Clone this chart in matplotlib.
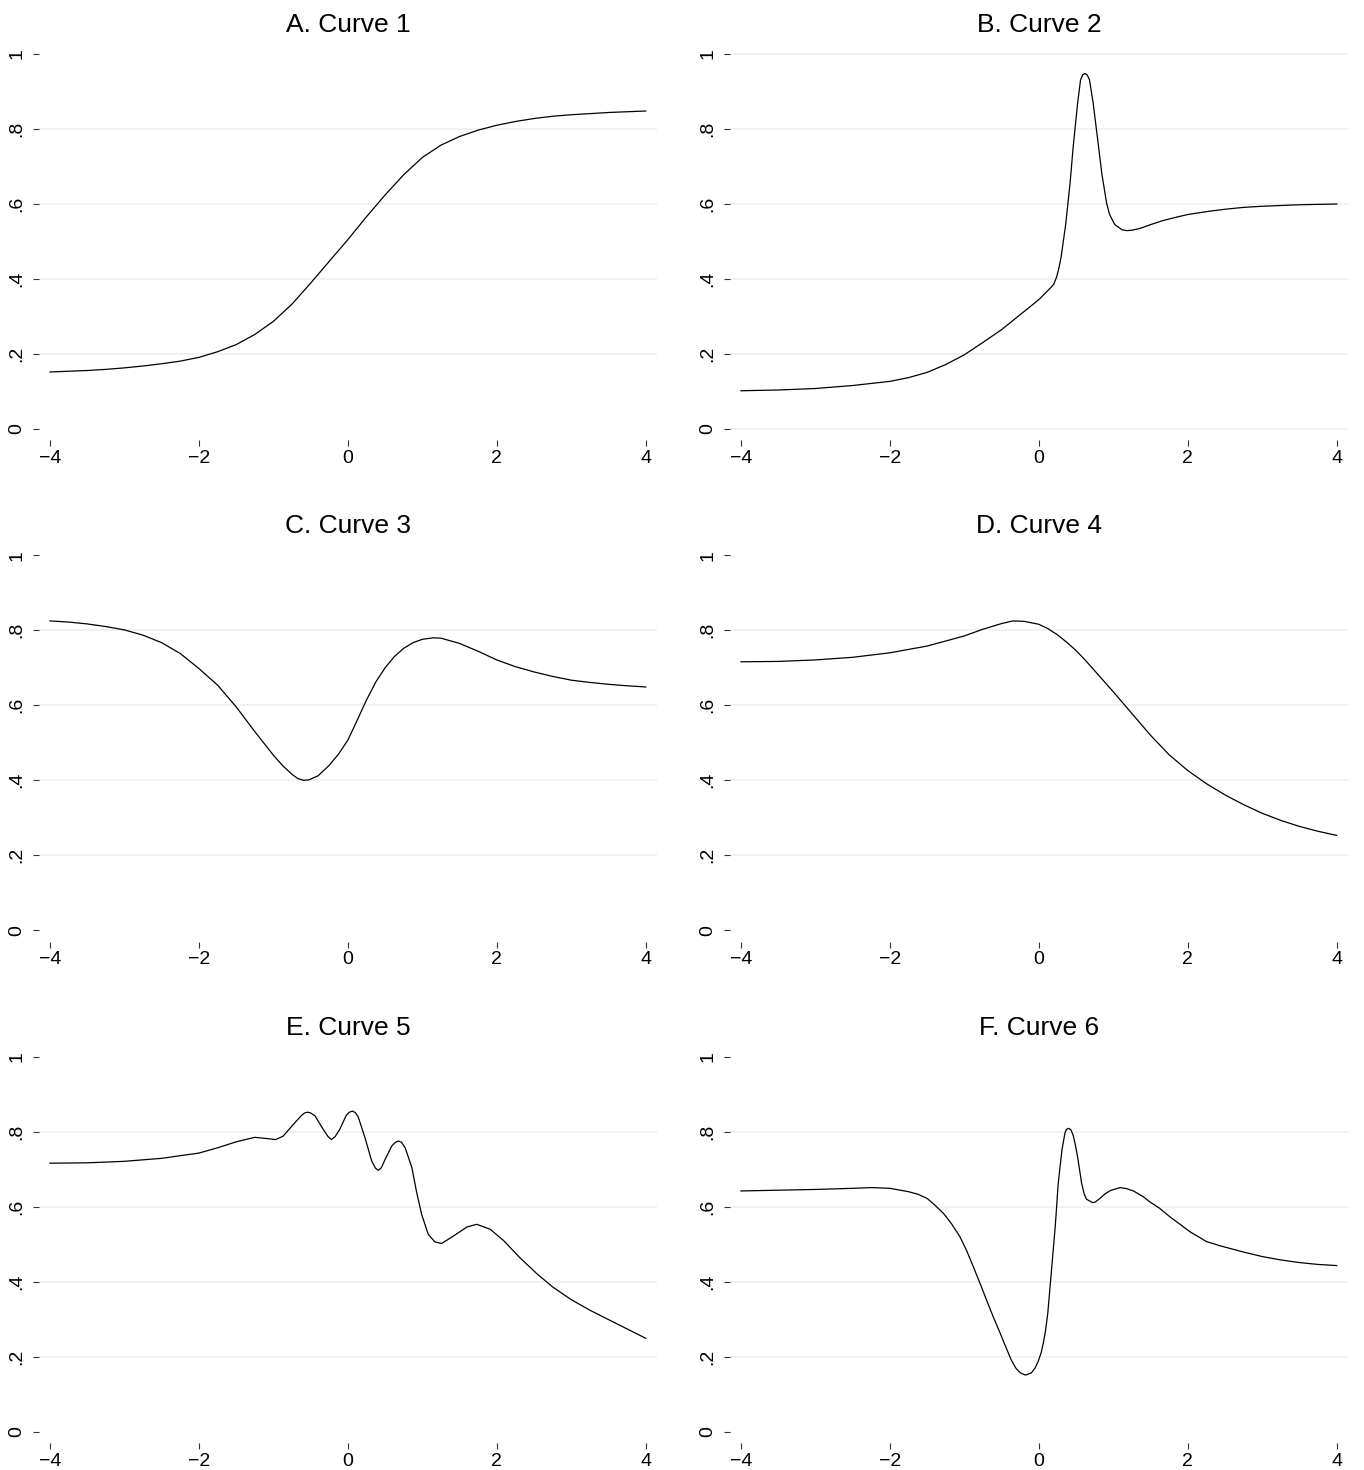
import matplotlib
matplotlib.use("Agg")
import matplotlib.pyplot as plt

plt.rcParams['font.family'] = ['Liberation Sans', 'DejaVu Sans']

# values
titles = ["A. Curve 1", "B. Curve 2", "C. Curve 3", "D. Curve 4", "E. Curve 5", "F. Curve 6"]

curve1_x = [-4, -3.75, -3.5, -3.25, -3, -2.75, -2.5, -2.25, -2, -1.75, -1.5, -1.25, -1, -0.75, -0.5,
            -0.25, 0, 0.25, 0.5, 0.75, 1, 1.25, 1.5, 1.75, 2, 2.25, 2.5, 2.75, 3, 3.25, 3.5, 3.75, 4]
curve1_y = [.152, .154, .156, .159, .163, .168, .174, .181, .191, .206, .225, .252, .287, .333, .389,
            .447, .505, .566, .624, .678, .724, .757, .780, .797, .810, .820, .828, .834, .838, .841,
            .844, .846, .848]

curve2_x = [-4, -3.5, -3, -2.5, -2, -1.75, -1.5, -1.25, -1, -0.75, -0.5, -0.25, 0, 0.15, 0.2, 0.24,
            0.27, 0.3, 0.36, 0.42, 0.46, 0.52, 0.56, 0.59, 0.62, 0.65, 0.68, 0.73, 0.785, 0.845, 0.91,
            0.95, 1.02, 1.12, 1.18, 1.25, 1.36, 1.5, 1.67, 1.85, 2.0, 2.3, 2.5, 2.75, 3, 3.5, 4]
curve2_y = [.102, .104, .108, .116, .127, .137, .151, .172, .198, .231, .265, .305, .345, .375, .386,
            .406, .430, .460, .545, .657, .750, .868, .931, .945, .948, .944, .931, .868, .780, .682,
            .602, .572, .545, .531, .529, .530, .535, .545, .556, .565, .572, .581, .586, .591, .594,
            .598, .600]

curve3_x = [-4, -3.75, -3.5, -3.25, -3, -2.75, -2.5, -2.25, -2, -1.75, -1.5, -1.25, -1, -0.875,
            -0.75, -0.675, -0.6, -0.525, -0.4, -0.25, -0.125, 0, 0.125, 0.25, 0.375, 0.5, 0.625,
            0.75, 0.875, 1, 1.15, 1.25, 1.5, 1.75, 2, 2.25, 2.5, 2.75, 3, 3.25, 3.5, 3.75, 4]
curve3_y = [.825, .822, .817, .810, .801, .787, .767, .738, .698, .654, .596, .530, .467, .439,
            .416, .405, .400, .401, .412, .440, .470, .507, .560, .614, .662, .700, .730,
            .752, .767, .776, .780, .779, .765, .744, .721, .703, .689, .677, .667, .661, .656,
            .652, .649]

curve4_x = [-4, -3.5, -3, -2.5, -2, -1.5, -1, -0.75, -0.5, -0.35, -0.2, 0, 0.125, 0.25, 0.375, 0.5,
            0.625, 0.75, 1, 1.25, 1.5, 1.75, 2, 2.25, 2.5, 2.75, 3, 3.25, 3.5, 3.75, 4]
curve4_y = [.716, .717, .721, .728, .740, .758, .785, .803, .818, .825, .824, .816, .804, .788, .768,
            .746, .720, .692, .636, .578, .520, .468, .426, .391, .361, .335, .312, .293, .277, .264,
            .253]

curve5_x = [-4, -3.5, -3, -2.5, -2, -1.75, -1.5, -1.25, -1.1, -0.97, -0.87, -0.73, -0.62, -0.58,
            -0.54, -0.5, -0.44, -0.33, -0.27, -0.22, -0.17, -0.11, -0.02, 0.02, 0.06, 0.1, 0.14, 0.23,
            0.32, 0.37, 0.41, 0.45, 0.5, 0.59, 0.64, 0.68, 0.72, 0.77, 0.86, 0.92, 0.99, 1.08, 1.17,
            1.26, 1.42, 1.6, 1.73, 1.91, 2.09, 2.31, 2.54, 2.75, 3, 3.25, 3.5, 3.75, 4]
curve5_y = [.716, .717, .721, .729, .743, .757, .773, .785, .782, .779, .788, .820, .844, .850,
            .852, .850, .842, .806, .788, .779, .787, .806, .844, .852, .855, .851, .839, .784,
            .722, .703, .697, .704, .726, .762, .772, .775, .772, .757, .704, .642, .580, .526, .506,
            .502, .522, .546, .553, .540, .510, .464, .421, .386, .352, .324, .299, .274, .249]

curve6_x = [-4, -3.5, -3, -2.5, -2.25, -2, -1.75, -1.62, -1.5, -1.395, -1.28, -1.171, -1.06, -0.97,
            -0.88, -0.791, -0.7, -0.612, -0.52, -0.442, -0.37, -0.307, -0.25, -0.18, -0.1, -0.05,
            -0.01, 0.03, 0.06, 0.09, 0.12, 0.17, 0.22, 0.26, 0.31, 0.35, 0.37, 0.4, 0.43, 0.46, 0.49,
            0.52, 0.575, 0.61, 0.64, 0.72, 0.754, 0.82, 0.888, 0.96, 1.09, 1.18, 1.27, 1.4, 1.49,
            1.62, 1.76, 1.89, 2.03, 2.16, 2.25, 2.43, 2.75, 3, 3.25, 3.5, 3.75, 4]
curve6_y = [.642, .644, .646, .649, .651, .649, .640, .633, .622, .604, .582, .554, .520, .483,
            .440, .396, .350, .306, .263, .225, .191, .169, .157, .151, .157, .170,
            .187, .210, .236, .270, .316, .431, .547, .662, .751, .796, .806, .809, .805, .791, .765,
            .733, .662, .633, .620, .611, .612, .622, .634, .643, .651, .648, .642, .627, .613,
            .596, .573, .554, .533, .518, .507, .496, .479, .467, .458, .451, .446, .443]

x_ticks = [-4, -2, 0, 2, 4]
x_tick_labels = ["\u22124", "\u22122", "0", "2", "4"]
y_ticks = [0, .2, .4, .6, .8, 1]
y_tick_labels = ["0", ".2", ".4", ".6", ".8", "1"]

curves = [(curve1_x, curve1_y), (curve2_x, curve2_y), (curve3_x, curve3_y),
          (curve4_x, curve4_y), (curve5_x, curve5_y), (curve6_x, curve6_y)]

# panel B also shows the grid at 0 and 1
grid_levels = [[.2, .4, .6, .8], [0, .2, .4, .6, .8, 1], [.2, .4, .6, .8],
               [.2, .4, .6, .8], [.2, .4, .6, .8], [.2, .4, .6, .8]]


def plot_curve_panel(fig, rect, xs, ys, title, grid_vals):
    """Draw one Stata-like panel: thin black curve, faint y grid, rotated y labels."""
    ax = fig.add_axes(rect)
    for v in grid_vals:
        ax.axhline(v, color='#e7eff2', lw=1.1, zorder=0)
    ax.plot(xs, ys, color='black', lw=0.9, zorder=2, solid_joinstyle='round')

    ax.set_xlim(-4.15, 4.15)
    ax.set_ylim(-0.03, 1.03)
    ax.set_xticks(x_ticks)
    ax.set_xticklabels(x_tick_labels, fontsize=14)
    ax.set_yticks(y_ticks)
    ax.set_yticklabels(y_tick_labels, fontsize=14, rotation=90, va='center')
    ax.tick_params(axis='x', length=4.5, width=0.8, color='#333333', pad=2.5)
    ax.tick_params(axis='y', length=4.5, width=0.8, color='#333333', pad=5)
    for s in ax.spines.values():
        s.set_visible(False)

    ax.text(0.5, 1.027, title, transform=ax.transAxes, ha='center', va='baseline', fontsize=19)
    return ax


W, H = 1364, 1470
fig = plt.figure(figsize=(W / 100, H / 100), dpi=100)

col_left = [38.8, 729.8]
row_zero = [429, 930.3, 1431.7]
ax_w = 618.1
ax_h = 397.5

for i, (xs, ys) in enumerate(curves):
    r, c = divmod(i, 2)
    bottom_px = row_zero[r] + 11.25
    rect = [col_left[c] / W, 1 - bottom_px / H, ax_w / W, ax_h / H]
    plot_curve_panel(fig, rect, xs, ys, titles[i], grid_levels[i])

fig.savefig("out.png", dpi=100, facecolor='white')
